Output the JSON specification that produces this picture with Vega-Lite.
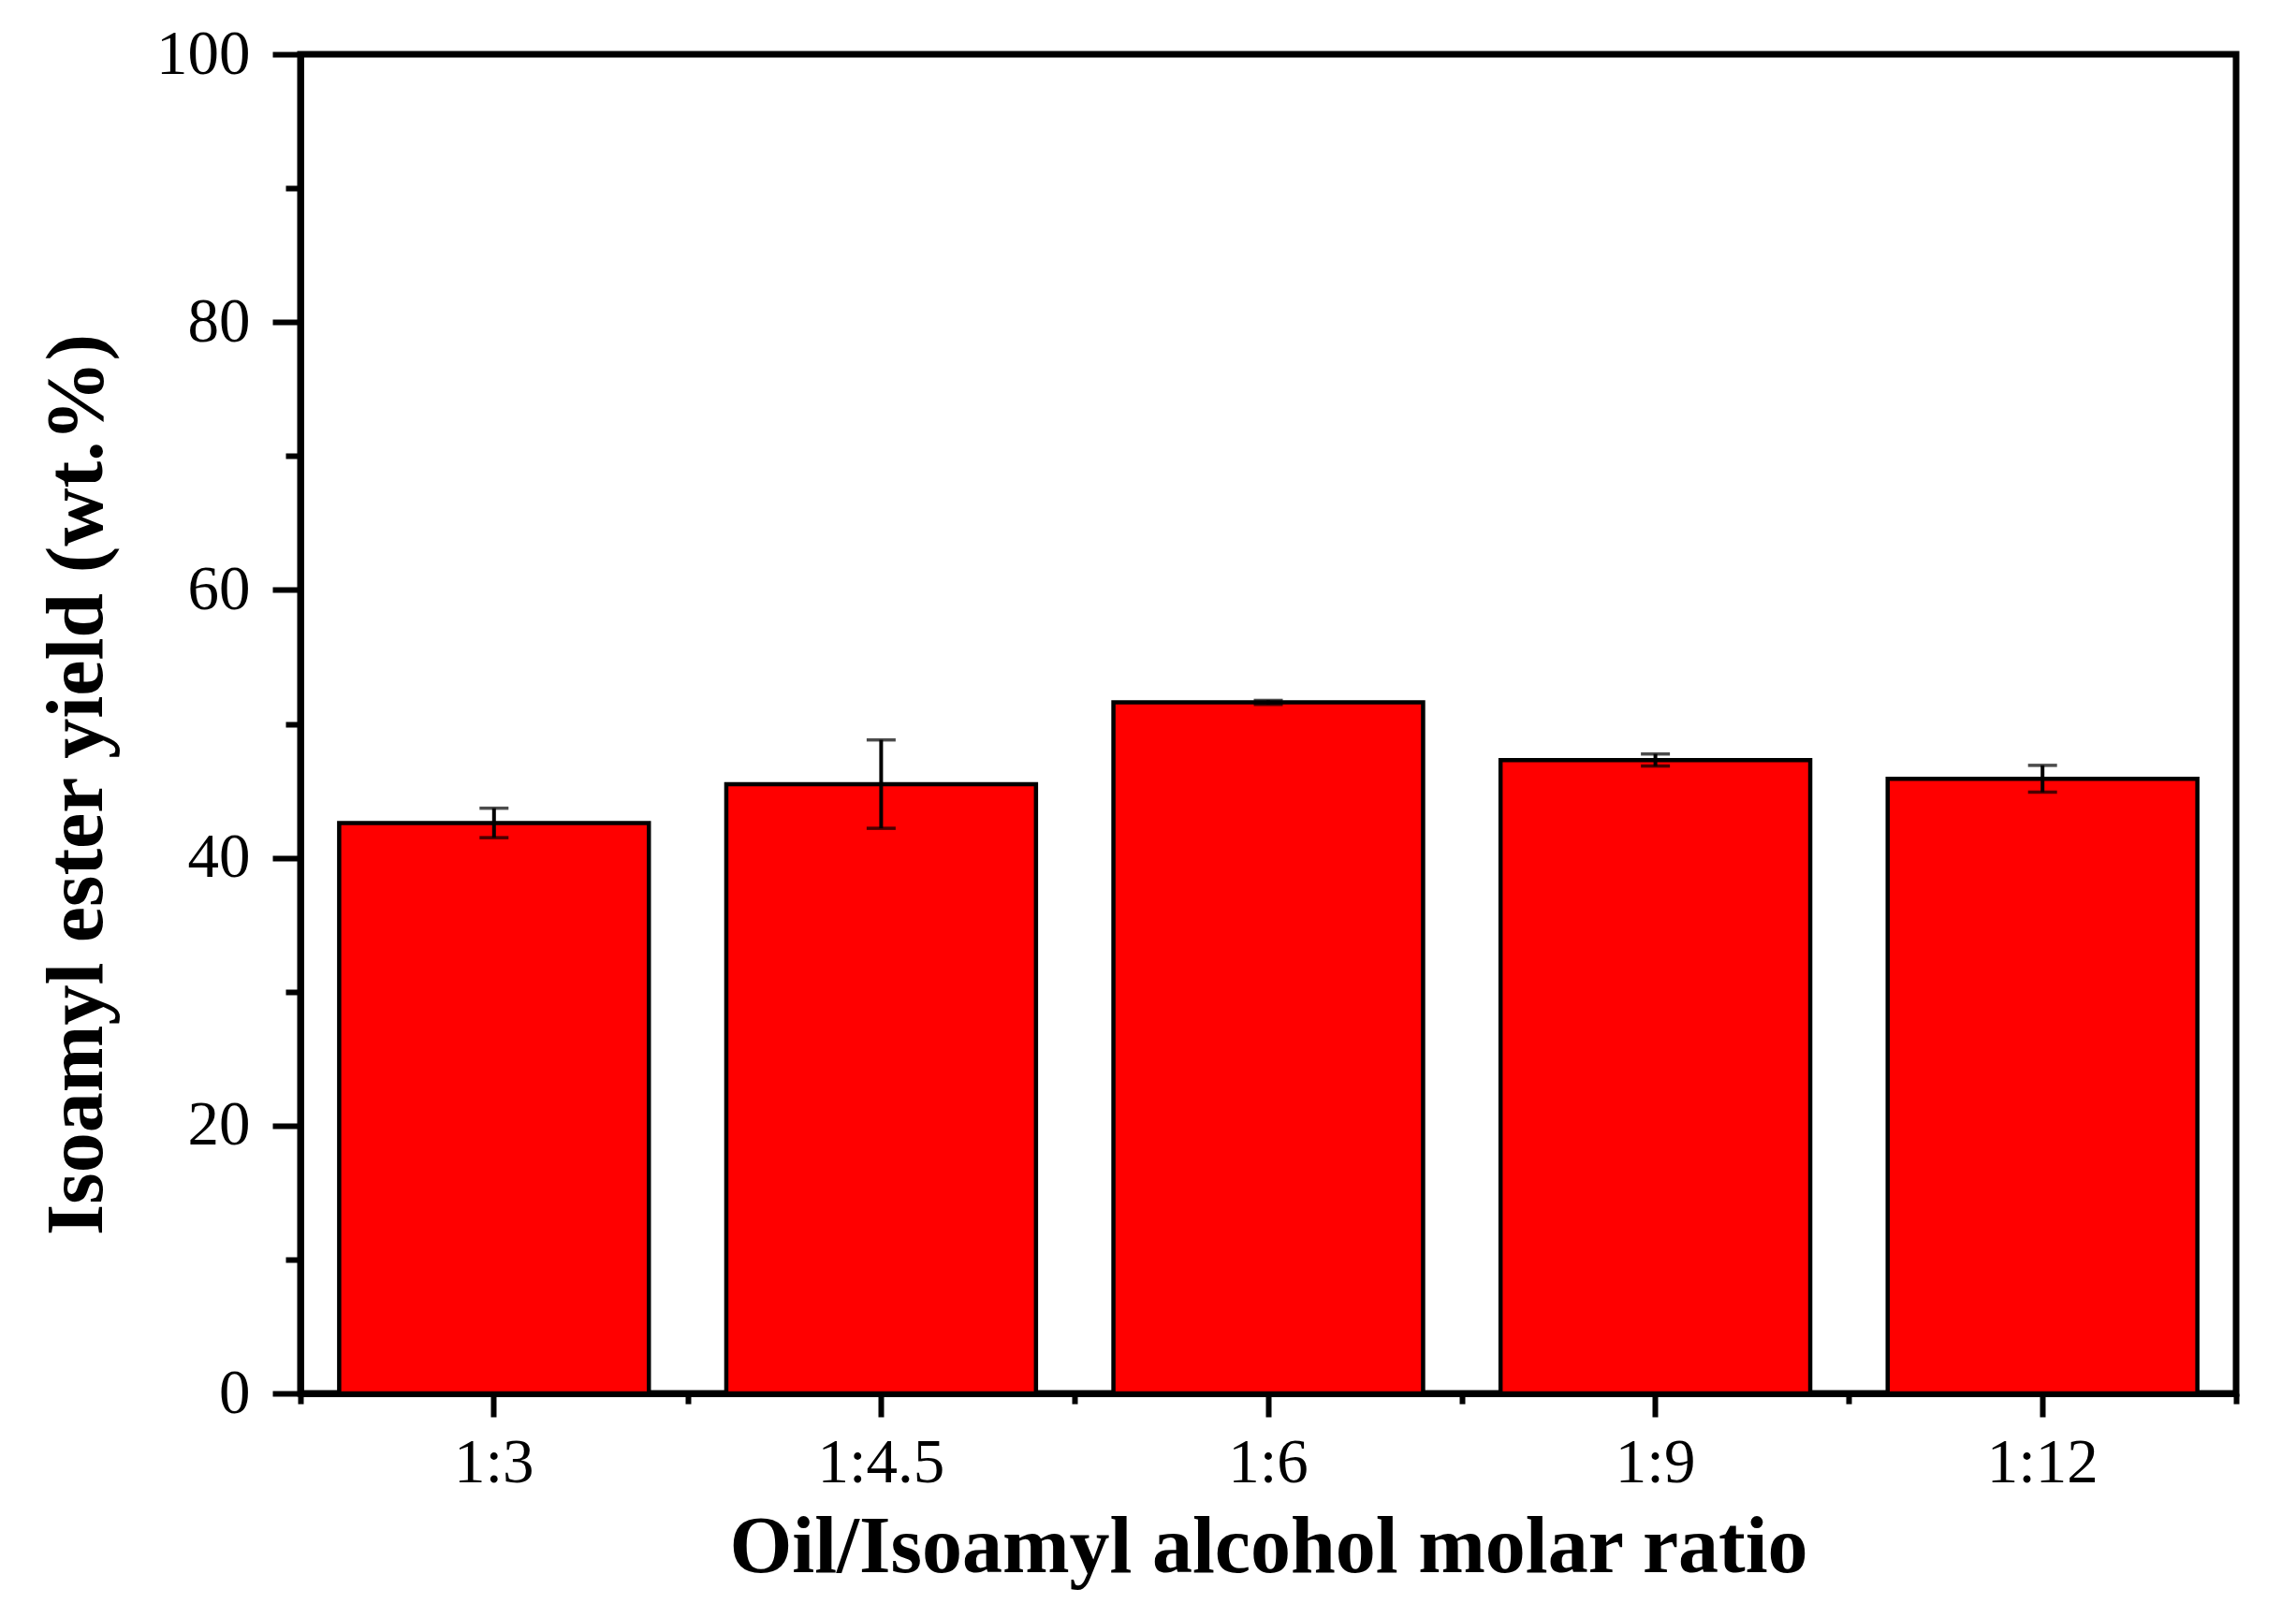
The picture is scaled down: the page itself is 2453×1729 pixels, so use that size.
{
  "$schema": "https://vega.github.io/schema/vega-lite/v6.json",
  "autosize": {"type": "none"},
  "padding": {"left": 321, "top": 58, "right": 64, "bottom": 240},
  "width": 2068,
  "height": 1431,
  "background": "white",
  "config": {
    "view": {"stroke": "black", "strokeWidth": 7},
    "font": "Liberation Serif",
    "axis": {"labelFont": "Liberation Serif", "titleFont": "Liberation Serif", "labelColor": "black", "titleColor": "black", "tickColor": "black", "domainColor": "black", "grid": false}
  },
  "data": {
    "values": [
      {"ratio": "1:3", "yield": 42.6, "err": 1.1},
      {"ratio": "1:4.5", "yield": 45.5, "err": 3.3},
      {"ratio": "1:6", "yield": 51.6, "err": 0.15},
      {"ratio": "1:9", "yield": 47.3, "err": 0.45},
      {"ratio": "1:12", "yield": 45.9, "err": 1.0}
    ]
  },
  "resolve": {"axis": {"x": "independent"}},
  "layer": [
    {
      "mark": {"type": "bar", "fill": "#FF0000", "stroke": "black", "strokeWidth": 4.5, "width": {"band": 0.8}},
      "encoding": {
        "x": {
          "field": "ratio", "type": "nominal", "sort": null,
          "scale": {"paddingInner": 0, "paddingOuter": 0},
          "axis": {
            "orient": "bottom",
            "title": "Oil/Isoamyl alcohol molar ratio",
            "titleFontSize": 86, "titleFontWeight": "bold", "titlePadding": 15,
            "labelFontSize": 67, "labelAngle": 0, "labelPadding": 16,
            "tickSize": 25, "tickWidth": 6, "domainWidth": 7
          }
        },
        "y": {
          "field": "yield", "type": "quantitative",
          "title": "Isoamyl ester yield (wt.%)",
          "scale": {"domain": [0, 100], "nice": false},
          "axis": {
            "titleFontSize": 86, "titleFontWeight": "bold", "titlePadding": 40, "titleY": 780,
            "values": [0, 10, 20, 30, 40, 50, 60, 70, 80, 90, 100],
            "labelExpr": "datum.value % 20 === 0 ? datum.label : ''",
            "labelFontSize": 67, "labelPadding": 24,
            "tickSize": {"condition": {"test": "datum.value % 20 === 0", "value": 30}, "value": 16},
            "tickWidth": 6, "domainWidth": 7
          }
        }
      }
    },
    {
      "mark": {"type": "errorbar", "ticks": {"size": 31, "thickness": 3.5, "color": "black"}, "rule": {"strokeWidth": 4, "color": "black"}},
      "encoding": {
        "x": {
          "field": "ratio", "type": "nominal", "sort": null,
          "axis": {
            "orient": "bottom", "title": null, "labels": false, "domain": false,
            "tickBand": "extent", "tickSize": 11, "tickWidth": 6
          }
        },
        "y": {"field": "yield", "type": "quantitative", "title": "Isoamyl ester yield (wt.%)"},
        "yError": {"field": "err"}
      }
    }
  ]
}
